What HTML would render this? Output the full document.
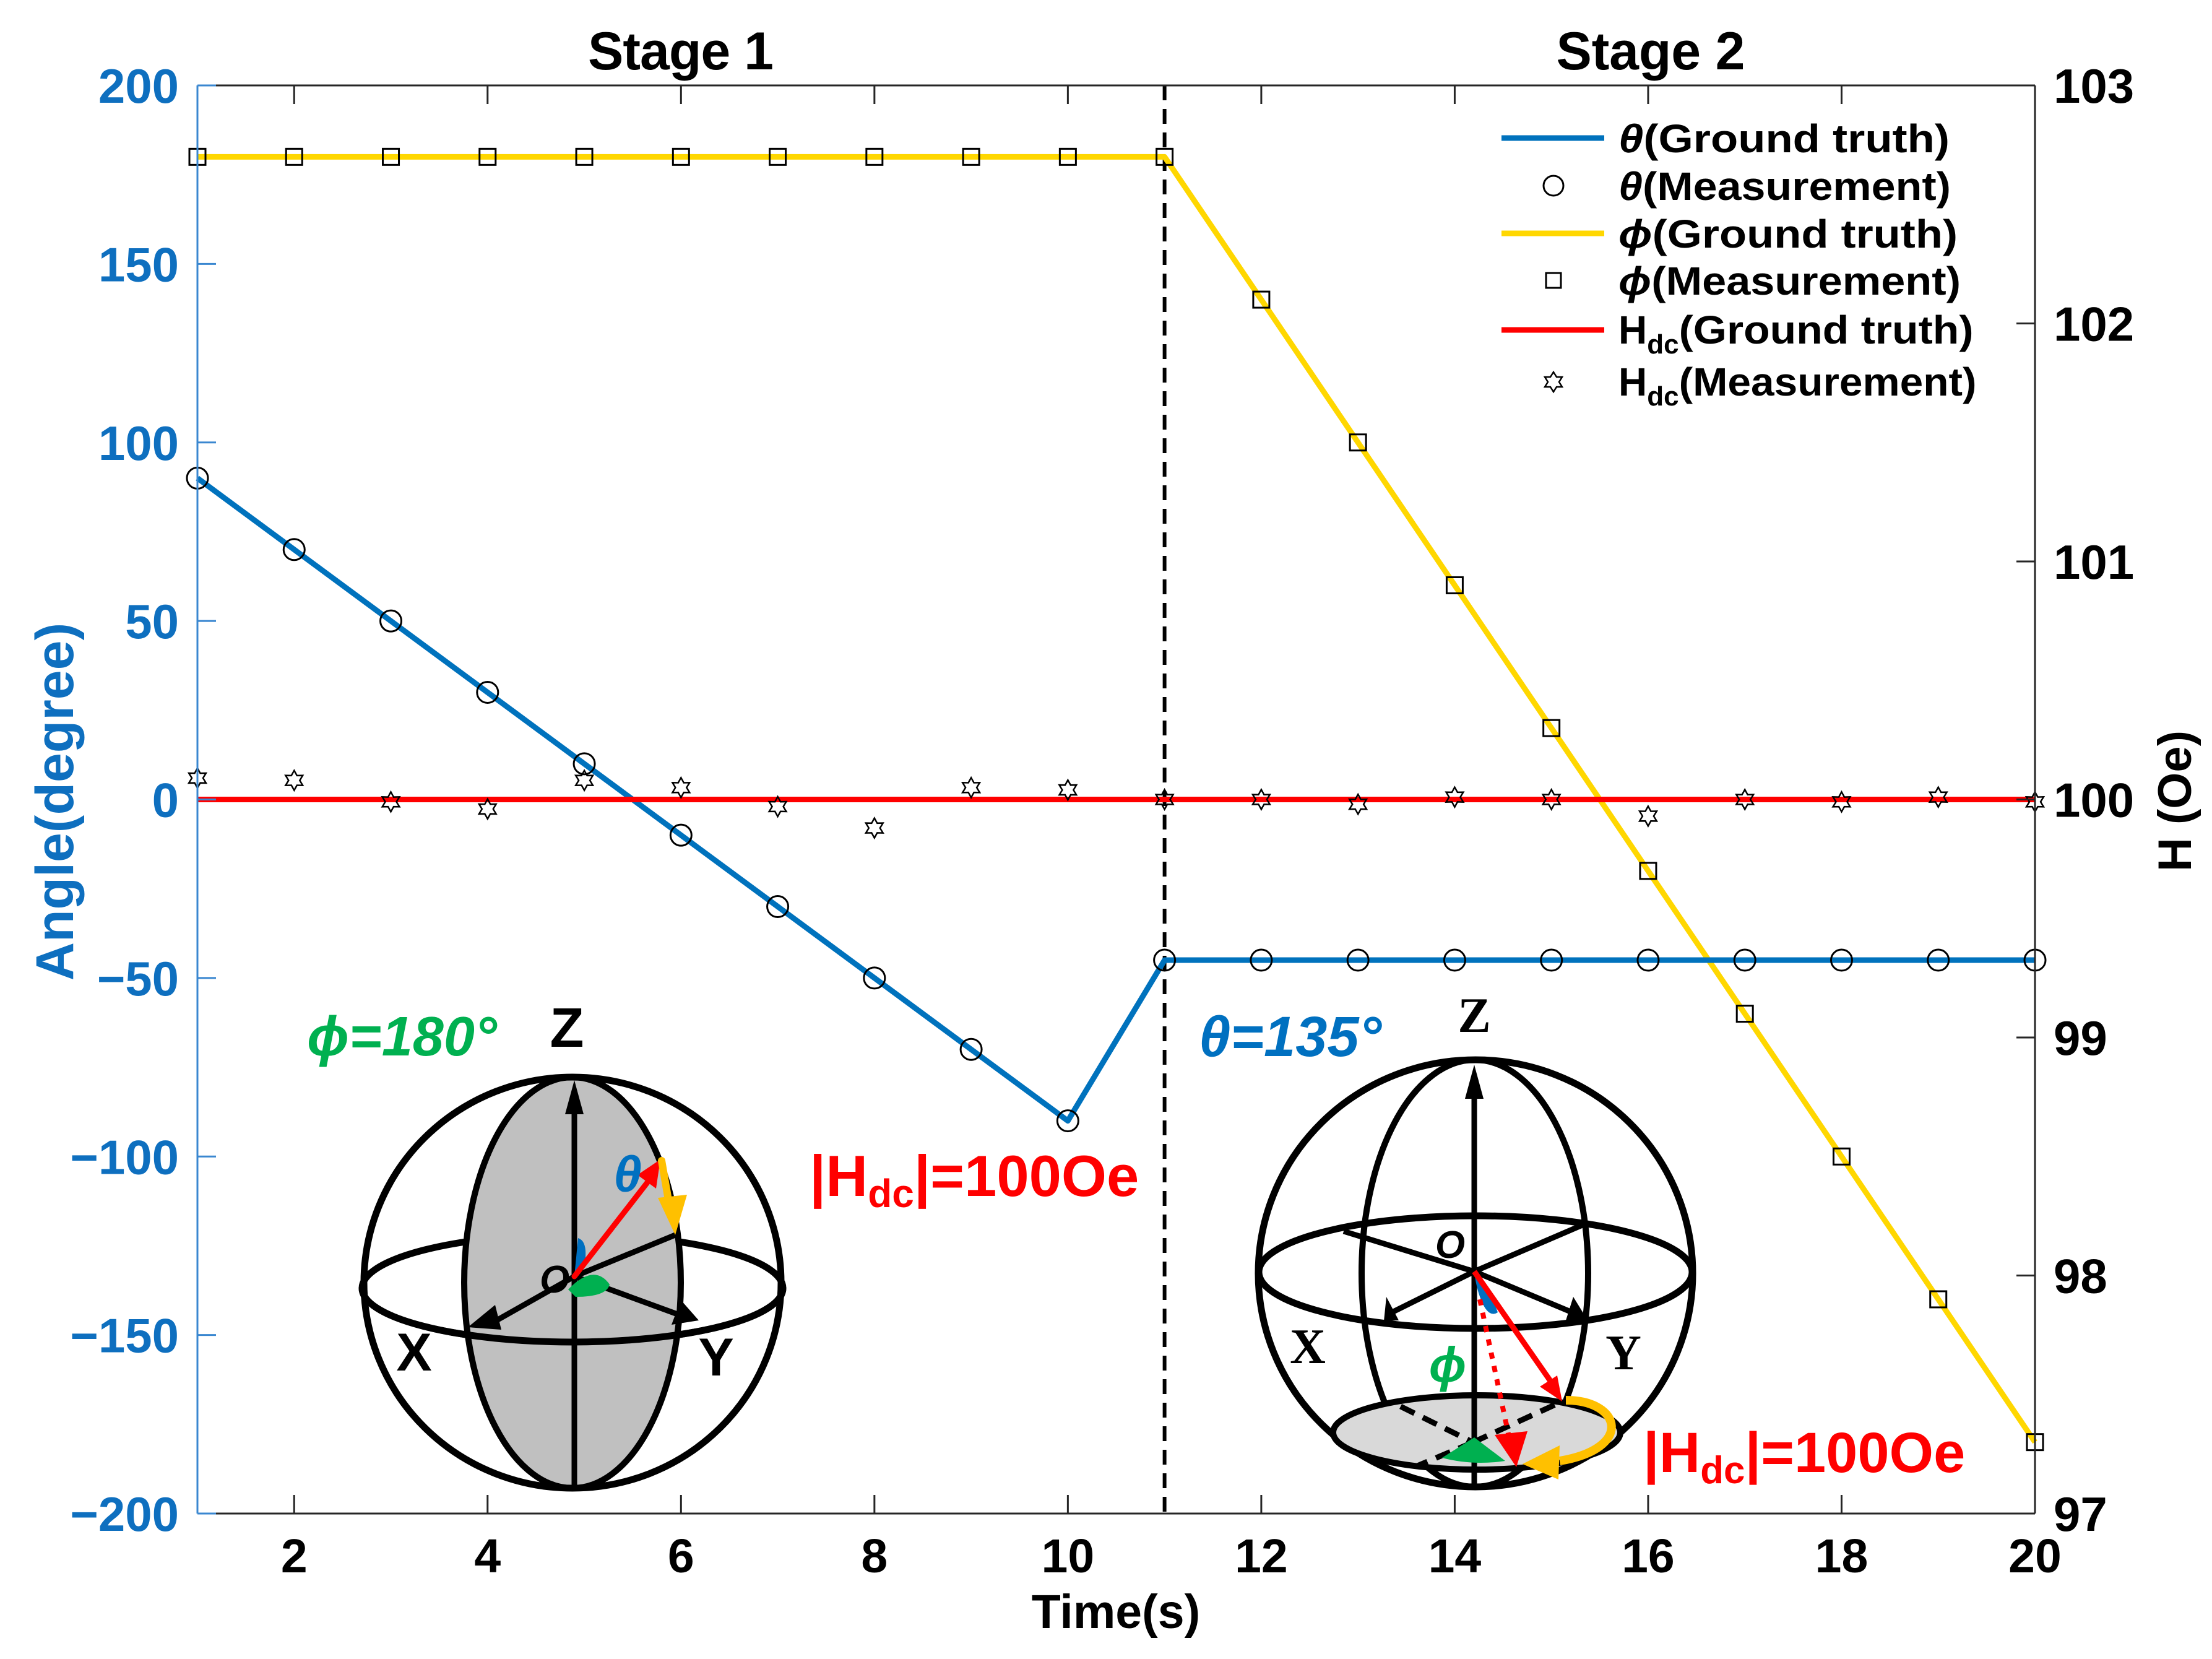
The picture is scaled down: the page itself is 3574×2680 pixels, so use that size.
<!DOCTYPE html>
<html><head><meta charset="utf-8"><style>
html,body{margin:0;padding:0;background:#fff}
svg{display:block}
text{font-family:"Liberation Sans",Arial,sans-serif;font-weight:bold}
</style></head><body>
<svg id="chart" width="3574" height="2680" viewBox="0 0 3574 2680" xmlns="http://www.w3.org/2000/svg">
<rect x="0" y="0" width="3574" height="2680" fill="#fff"/>
<g id="marks"></g>
<g id="axes"></g>

<text x="1100" y="112" font-size="86" text-anchor="middle" textLength="300">Stage 1</text>
<text x="2667" y="112" font-size="86" text-anchor="middle" textLength="305">Stage 2</text>

<text transform="translate(118,1295) rotate(-90)" font-size="86" fill="#0e6fbf" text-anchor="middle">Angle(degree)</text>
<text transform="translate(3540,1294) rotate(-90)" font-size="76" text-anchor="middle">H (Oe)</text>
<text x="1803" y="2630" font-size="77" text-anchor="middle">Time(s)</text>

<g font-size="64">
 <g><line x1="2426" y1="223" x2="2592" y2="223" stroke="#0072BD" stroke-width="9"/><text x="2615" y="246" textLength="535" lengthAdjust="spacingAndGlyphs"><tspan font-style="italic">θ</tspan>(Ground  truth)</text></g>
 <g><circle cx="2510" cy="300" r="16" fill="none" stroke="#000" stroke-width="3"/><text x="2615" y="323" textLength="537" lengthAdjust="spacingAndGlyphs"><tspan font-style="italic">θ</tspan>(Measurement)</text></g>
 <g><line x1="2426" y1="377" x2="2592" y2="377" stroke="#FFD700" stroke-width="9"/><text x="2615" y="400" textLength="548" lengthAdjust="spacingAndGlyphs"><tspan font-style="italic">ϕ</tspan>(Ground  truth)</text></g>
 <g><rect x="2498" y="441" width="24" height="24" fill="none" stroke="#000" stroke-width="3"/><text x="2615" y="476" textLength="553" lengthAdjust="spacingAndGlyphs"><tspan font-style="italic">ϕ</tspan>(Measurement)</text></g>
 <g><line x1="2426" y1="533" x2="2592" y2="533" stroke="#FF0000" stroke-width="9"/><text x="2615" y="555">H<tspan font-size="44" dy="16">dc</tspan><tspan dy="-16" textLength="476" lengthAdjust="spacingAndGlyphs">(Ground  truth)</tspan></text></g>
 <g><polygon points="2510,601 2515,609 2524,609 2519,617 2524,625 2515,625 2510,633 2505,625 2496,625 2501,617 2496,609 2505,609" fill="none" stroke="#000" stroke-width="2.5"/><text x="2615" y="639">H<tspan font-size="44" dy="16">dc</tspan><tspan dy="-16" textLength="481" lengthAdjust="spacingAndGlyphs">(Measurement)</tspan></text></g>
</g>

<g stroke="#000" fill="none" stroke-linecap="round">
 <ellipse cx="925" cy="2081" rx="340" ry="87" stroke-width="11"/>
 <ellipse cx="925" cy="2072" rx="175" ry="332" fill="#c0c0c0" stroke-width="10"/>
 <path d="M585,2081 A340,87 0 0 0 1265,2081" stroke-width="11"/>
 <ellipse cx="925" cy="2072" rx="337" ry="332" stroke-width="11"/>
 <line x1="928" y1="2401" x2="928" y2="1780" stroke-width="9"/>
 <polygon points="928,1745 913,1800 943,1800" fill="#000" stroke="none"/>
 <line x1="928" y1="2062" x2="1091" y2="1995" stroke-width="9"/>
 <line x1="928" y1="2062" x2="790" y2="2140" stroke-width="9"/>
 <polygon points="756,2144 800,2108 810,2148" fill="#000" stroke="none"/>
 <line x1="928" y1="2062" x2="1100" y2="2125" stroke-width="9"/>
 <polygon points="1129,2133 1085,2140 1100,2100" fill="#000" stroke="none"/>
 <path d="M928,2062 L934,2000 Q950,2005 945,2040 Z" fill="#0070C0" stroke="none"/>
 <path d="M918,2083 Q960,2040 985,2075 Q980,2095 930,2095 Z" fill="#00B050" stroke="none"/>
 <line x1="928" y1="2062" x2="1050" y2="1905" stroke="#FF0000" stroke-width="9"/>
 <polygon points="1067,1873 1030,1898 1060,1920" fill="#FF0000" stroke="none"/>
 <line x1="1069" y1="1875" x2="1082" y2="1950" stroke="#FFC000" stroke-width="12"/>
 <polygon points="1063,1935 1110,1930 1091,1995" fill="#FFC000" stroke="none"/>
</g>
<text x="1014" y="1925" font-size="82" fill="#0070C0" font-style="italic" text-anchor="middle">θ</text>
<text x="872" y="2088" font-size="62" font-style="italic">O</text>
<text x="496" y="1705" font-size="90" fill="#00B050" font-style="italic">ϕ=180°</text>
<text x="916" y="1691" font-size="90" text-anchor="middle">Z</text>
<text x="669" y="2214" font-size="86" text-anchor="middle">X</text>
<text x="1157" y="2222" font-size="86" text-anchor="middle">Y</text>
<text x="1308" y="1932" font-size="94" fill="#FF0000">|H<tspan font-size="64" dy="18">dc</tspan><tspan dy="-18">|=100Oe</tspan></text>

<g stroke="#000" fill="none" stroke-linecap="butt">
 <ellipse cx="2384" cy="2057" rx="351" ry="345" stroke-width="11"/>
 <ellipse cx="2383" cy="2057" rx="183" ry="345" stroke-width="10"/>
 <ellipse cx="2384" cy="2055" rx="350" ry="91" stroke-width="11"/>
 <ellipse cx="2386" cy="2314" rx="232" ry="60" fill="#d9d9d9" stroke-width="10"/>
 <line x1="2382" y1="2402" x2="2382" y2="1750" stroke-width="9"/>
 <polygon points="2382,1720 2367,1775 2397,1775" fill="#000" stroke="none"/>
 <line x1="2382" y1="2054" x2="2171" y2="1989" stroke-width="9"/>
 <line x1="2382" y1="2054" x2="2559" y2="1978" stroke-width="9"/>
 <line x1="2382" y1="2054" x2="2245" y2="2122" stroke-width="9"/>
 <polygon points="2236,2134 2240,2095 2260,2133" fill="#000" stroke="none"/>
 <line x1="2382" y1="2054" x2="2545" y2="2122" stroke-width="9"/>
 <polygon points="2566,2134 2542,2095 2530,2133" fill="#000" stroke="none"/>
 <line x1="2263" y1="2272" x2="2380" y2="2330" stroke-width="9" stroke-dasharray="25,15"/>
 <line x1="2380" y1="2330" x2="2524" y2="2264" stroke-width="9" stroke-dasharray="25,15"/>
 <line x1="2380" y1="2330" x2="2290" y2="2368" stroke-width="9" stroke-dasharray="25,15"/>
 <path d="M2382,2054 Q2410,2090 2420,2120 Q2405,2130 2393,2100 Q2385,2080 2382,2054 Z" fill="#0070C0" stroke="none"/>
 <path d="M2382,2322 L2330,2355 Q2380,2368 2432,2360 Z" fill="#00B050" stroke="none"/>
 <line x1="2382" y1="2054" x2="2510" y2="2238" stroke="#FF0000" stroke-width="9"/>
 <polygon points="2524,2264 2488,2240 2516,2222" fill="#FF0000" stroke="none"/>
 <line x1="2391" y1="2099" x2="2440" y2="2330" stroke="#FF0000" stroke-width="8" stroke-dasharray="10,12"/>
 <polygon points="2450,2370 2415,2318 2468,2312" fill="#FF0000" stroke="none"/>
 <path d="M2530,2262 C2620,2262 2640,2340 2520,2360" stroke="#FFC000" stroke-width="14"/>
 <polygon points="2460,2365 2520,2335 2518,2390" fill="#FFC000" stroke="none"/>
</g>
<text x="2343" y="2032" font-size="62" font-style="italic" text-anchor="middle">O</text>
<text x="2339" y="2232" font-size="80" fill="#00B050" font-style="italic" text-anchor="middle">ϕ</text>
<text x="1937" y="1706" font-size="92" fill="#0070C0" font-style="italic">θ=135°</text>
<text x="2382" y="1667" font-size="80" text-anchor="middle" style="font-family:'Liberation Serif',serif">Z</text>
<text x="2113" y="2202" font-size="80" text-anchor="middle" style="font-family:'Liberation Serif',serif">X</text>
<text x="2623" y="2212" font-size="80" text-anchor="middle" style="font-family:'Liberation Serif',serif">Y</text>
<text x="2655" y="2378" font-size="92" fill="#FF0000">|H<tspan font-size="62" dy="18">dc</tspan><tspan dy="-18">|=100Oe</tspan></text>
</svg>
<script>
const times = [1,2,3,4,5,6,7,8,9,10,11,12,13,14,15,16,17,18,19,20];
const thetaTruth = [90,70,50,30,10,-10,-30,-50,-70,-90,-45,-45,-45,-45,-45,-45,-45,-45,-45,-45];
const thetaMeas = [90,70,50,30,10,-10,-30,-50,-70,-90,-45,-45,-45,-45,-45,-45,-45,-45,-45,-45];
const phiTruth = [180,180,180,180,180,180,180,180,180,180,180,140,100,60,20,-20,-60,-100,-140,-180];
const phiMeas = [180,180,180,180,180,180,180,180,180,180,180,140,100,60,20,-20,-60,-100,-140,-180];
const hTruth = [100,100,100,100,100,100,100,100,100,100,100,100,100,100,100,100,100,100,100,100];
const hMeas = [100.09,100.08,99.99,99.96,100.08,100.05,99.97,99.88,100.05,100.04,100,100.0,99.98,100.01,100,99.93,100,99.99,100.01,99.99];
const xTicks = [2,4,6,8,10,12,14,16,18,20];
const yTicks = [-200,-150,-100,-50,0,50,100,150,200];
const y2Ticks = [97,98,99,100,101,102,103];
const stageSplit = 11;

const L=319,R=3288,T=138,B=2445;
const X = t => L + (t-1)*(R-L)/19;
const YA = v => T + (200-v)*(B-T)/400;
const YH = h => T + (103-h)*(B-T)/6;
const NS='http://www.w3.org/2000/svg';
const marks=document.getElementById('marks'), axes=document.getElementById('axes');
function mk(tag,attrs,parent){const e=document.createElementNS(NS,tag);for(const k in attrs)e.setAttribute(k,attrs[k]);parent.appendChild(e);return e;}

const dv=mk('line',{x1:X(stageSplit),y1:T,x2:X(stageSplit),y2:B,stroke:'#000','stroke-width':6,'stroke-dasharray':'24,14'},marks);



function line(vals,fy,color,name){
  const p=mk('polyline',{points:vals.map((v,i)=>X(times[i])+','+fy(v)).join(' '),fill:'none',stroke:color,'stroke-width':9,'stroke-linejoin':'round'},marks);
  
  
}
line(phiTruth,YA,'#FFD700','phi-truth-line');
line(thetaTruth,YA,'#0072BD','theta-truth-line');
line(hTruth,YH,'#FF0000','hdc-truth-line');

thetaMeas.forEach((v,i)=>{
  const c=mk('circle',{cx:X(times[i]),cy:YA(v),r:17,fill:'none',stroke:'#000','stroke-width':3},marks);
  
  
});
phiMeas.forEach((v,i)=>{
  const r=mk('rect',{x:X(times[i])-13,y:YA(v)-13,width:26,height:26,fill:'none',stroke:'#000','stroke-width':3},marks);
  
  
});
hMeas.forEach((v,i)=>{
  const cx=X(times[i]),cy=YH(v);let pts=[];
  for(let k=0;k<12;k++){const a=-Math.PI/2+k*Math.PI/6,rr=k%2?9:16;pts.push((cx+rr*Math.cos(a)).toFixed(1)+','+(cy+rr*Math.sin(a)).toFixed(1));}
  const s=mk('polygon',{points:pts.join(' '),fill:'none',stroke:'#000','stroke-width':2.5},marks);
  
  
});

const blue='#0e6fbf';
mk('line',{x1:L,y1:T,x2:R,y2:T,stroke:'#262626','stroke-width':3},axes);
mk('line',{x1:L,y1:B,x2:R,y2:B,stroke:'#262626','stroke-width':3},axes);
mk('line',{x1:R,y1:T,x2:R,y2:B,stroke:'#262626','stroke-width':3},axes);
mk('line',{x1:L,y1:T,x2:L,y2:B,stroke:'#3a87d0','stroke-width':3},axes);
xTicks.forEach(t=>{
  mk('line',{x1:X(t),y1:B,x2:X(t),y2:B-30,stroke:'#262626','stroke-width':3},axes);
  mk('line',{x1:X(t),y1:T,x2:X(t),y2:T+30,stroke:'#262626','stroke-width':3},axes);
  const tx=mk('text',{x:X(t),y:2540,'font-size':77,'text-anchor':'middle'},axes);tx.textContent=t;
  
  
});
yTicks.forEach(v=>{
  mk('line',{x1:L,y1:YA(v),x2:L+30,y2:YA(v),stroke:'#3a87d0','stroke-width':3},axes);
  const tx=mk('text',{x:289,y:YA(v)+28,'font-size':78,'text-anchor':'end',fill:blue},axes);tx.textContent=v<0?'\u2212'+(-v):v;
  
  
});
y2Ticks.forEach(v=>{
  mk('line',{x1:R,y1:YH(v),x2:R-30,y2:YH(v),stroke:'#262626','stroke-width':3},axes);
  const tx=mk('text',{x:3318,y:YH(v)+28,'font-size':78},axes);tx.textContent=v;
  
  
});
</script>
</body></html>
